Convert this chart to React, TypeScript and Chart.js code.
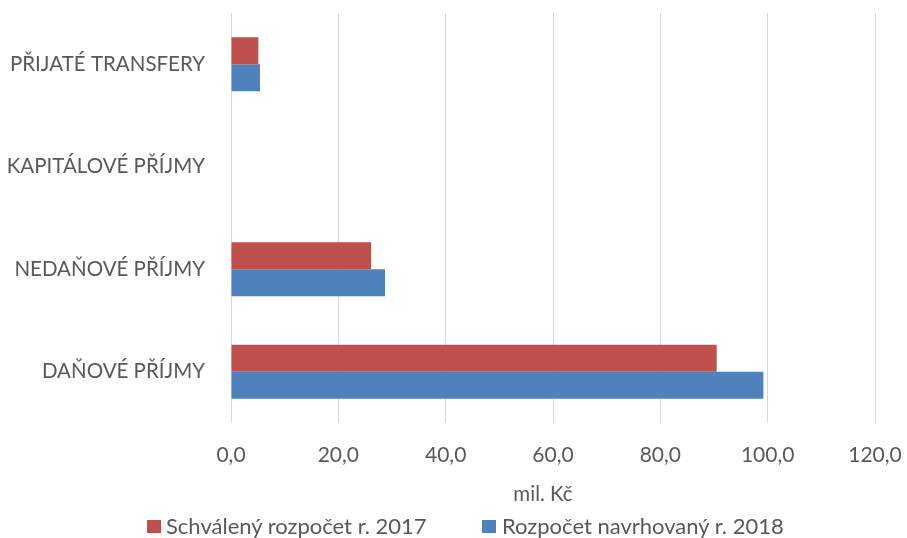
import React, { useEffect, useRef } from "react";
import { Chart, registerables } from "chart.js";

Chart.register(...registerables);

const categories = ["PŘIJATÉ TRANSFERY", "KAPITÁLOVÉ PŘÍJMY", "NEDAŇOVÉ PŘÍJMY", "DAŇOVÉ PŘÍJMY"];
const approved2017 = [5.1, 0, 26.1, 90.5];
const proposed2018 = [5.4, 0, 28.7, 99.2];
const seriesNames = ["Schválený rozpočet r. 2017", "Rozpočet navrhovaný r. 2018"];
const seriesColors = ["#C0504D", "#4F81BD"];
const axisTitle = "mil. Kč";

const FONT = "Lato, 'Open Sans', sans-serif";
const TEXT = "#595959";

export default function App() {
  const ref = useRef<HTMLCanvasElement>(null);
  useEffect(() => {
    document.body.style.margin = "0";
    const chart = new Chart(ref.current!, {
      type: "bar",
      data: {
        labels: categories,
        datasets: [
          { label: seriesNames[0], data: approved2017, backgroundColor: seriesColors[0], borderWidth: 0 },
          { label: seriesNames[1], data: proposed2018, backgroundColor: seriesColors[1], borderWidth: 0 },
        ],
      },
      options: {
        indexAxis: "y",
        animation: false,
        responsive: false,
        maintainAspectRatio: false,
        layout: { padding: { left: 8, right: 32, top: 13, bottom: 0 } },
        datasets: { bar: { barPercentage: 1, categoryPercentage: 0.527 } },
        scales: {
          x: {
            min: 0,
            max: 120,
            afterFit: (s: any) => {
              s.height = 115;
              s.paddingLeft = 0;
              s.paddingRight = 0;
            },
            ticks: {
              stepSize: 20,
              color: TEXT,
              font: { family: FONT, size: 21 },
              padding: 20,
              maxRotation: 0,
              callback: (v: any) => Number(v).toFixed(1).replace(".", ","),
            },
            grid: { color: "#D9D9D9", lineWidth: 1, drawTicks: false },
            border: { display: false },
          },
          y: {
            afterFit: (s: any) => {
              s.width = 223;
              s.paddingTop = 0;
              s.paddingBottom = 0;
            },
            ticks: { color: TEXT, font: { family: FONT, size: 20.5 }, padding: 26 },
            grid: { display: false, drawTicks: false },
            border: { display: false },
          },
        },
        plugins: {
          legend: { display: false },
          tooltip: { enabled: false },
        },
      },
    });
    return () => chart.destroy();
  }, []);

  const textStyle: React.CSSProperties = {
    position: "absolute",
    fontFamily: FONT,
    fontSize: 22,
    color: TEXT,
    lineHeight: "24px",
    whiteSpace: "nowrap",
  };
  return (
    <div style={{ position: "absolute", left: 0, top: 0, width: 907, height: 538, background: "#fff", overflow: "hidden" }}>
      <canvas ref={ref} width={907} height={538} style={{ position: "absolute", left: 0, top: 0 }} />
      <div style={{ ...textStyle, fontSize: 20.5, left: 493, top: 481, width: 100, textAlign: "center" }}>{axisTitle}</div>
      <div style={{ position: "absolute", left: 147, top: 520, width: 14, height: 13, background: seriesColors[0] }} />
      <div style={{ ...textStyle, left: 166, top: 514 }}>{seriesNames[0]}</div>
      <div style={{ position: "absolute", left: 482, top: 520, width: 14, height: 13, background: seriesColors[1] }} />
      <div style={{ ...textStyle, left: 502, top: 514 }}>{seriesNames[1]}</div>
    </div>
  );
}
